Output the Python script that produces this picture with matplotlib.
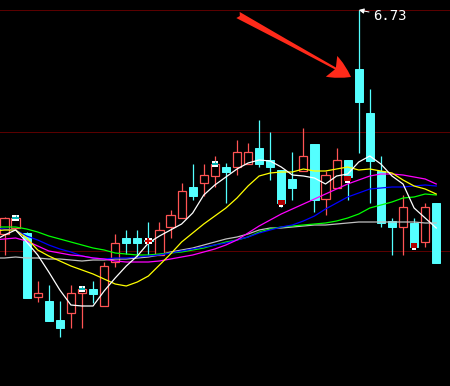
import numpy as np
import matplotlib.pyplot as plt
from matplotlib.patches import Rectangle

# daily candles
opens = [4.49, 4.55, 4.50, 3.86, 3.82, 3.63, 3.70, 3.90, 3.94, 3.77,
         4.21, 4.45, 4.45, 4.43, 4.28, 4.56, 4.65, 4.96, 5.00, 5.07,
         5.16, 5.16, 5.19, 5.35, 5.23, 5.13, 5.04, 5.12, 5.39, 4.84,
         4.95, 5.23, 6.14, 5.70, 5.12, 4.62, 4.56, 4.60, 4.41, 4.80]
highs = [4.66, 4.67, 4.51, 4.02, 3.98, 3.82, 3.98, 3.96, 4.02, 4.21,
         4.49, 4.53, 4.53, 4.61, 4.61, 4.73, 5.00, 5.19, 5.19, 5.27,
         5.20, 5.43, 5.40, 5.63, 5.51, 5.13, 5.31, 5.55, 5.39, 5.12,
         5.35, 5.23, 6.73, 5.94, 5.27, 4.65, 4.88, 4.65, 4.80, 4.80]
lows = [4.28, 4.54, 3.85, 3.81, 3.62, 3.46, 3.55, 3.55, 3.80, 3.77,
        4.16, 4.29, 4.26, 4.28, 4.28, 4.45, 4.65, 4.83, 4.87, 4.96,
        4.80, 5.08, 5.19, 5.16, 5.03, 4.76, 4.83, 5.12, 4.71, 4.68,
        4.95, 4.83, 5.30, 4.80, 4.56, 4.28, 4.28, 4.35, 4.36, 4.20]
closes = [4.65, 4.65, 3.85, 3.90, 3.62, 3.55, 3.90, 3.94, 3.89, 4.17,
          4.40, 4.40, 4.40, 4.42, 4.53, 4.68, 4.92, 4.87, 5.08, 5.19,
          5.11, 5.31, 5.31, 5.19, 5.16, 4.80, 4.95, 5.27, 4.83, 5.08,
          5.23, 5.06, 5.81, 5.22, 4.60, 4.56, 4.76, 4.36, 4.76, 4.20]

# moving averages, first value is the day before the first candle
ma_white = [4.42, 4.48, 4.53, 4.41, 4.28, 4.11, 3.93, 3.78, 3.77, 3.77,
            3.92, 4.05, 4.17, 4.27, 4.40, 4.47, 4.53, 4.59, 4.70, 4.88,
            4.98, 5.06, 5.14, 5.20, 5.23, 5.22, 5.16, 5.08, 5.07, 5.05,
            4.99, 5.07, 5.09, 5.21, 5.27, 5.19, 5.07, 4.99, 4.75, 4.65, 4.55]
ma_yellow = [4.52, 4.53, 4.53, 4.45, 4.33, 4.27, 4.22, 4.17, 4.13, 4.09,
             4.04, 3.99, 3.97, 4.01, 4.07, 4.18, 4.29, 4.41, 4.50, 4.59,
             4.67, 4.75, 4.85, 4.97, 5.07, 5.10, 5.11, 5.11, 5.14, 5.12,
             5.12, 5.14, 5.16, 5.13, 5.14, 5.12, 5.10, 5.03, 4.97, 4.94, 4.89]
ma_magenta = [4.43, 4.44, 4.45, 4.42, 4.37, 4.32, 4.30, 4.28, 4.27, 4.25,
              4.24, 4.22, 4.21, 4.21, 4.21, 4.22, 4.24, 4.26, 4.28, 4.31,
              4.34, 4.38, 4.43, 4.50, 4.57, 4.63, 4.69, 4.74, 4.79, 4.84,
              4.89, 4.94, 4.99, 5.03, 5.07, 5.09, 5.09, 5.08, 5.06, 5.04, 4.99]
ma_blue = [4.55, 4.54, 4.53, 4.47, 4.43, 4.38, 4.34, 4.31, 4.27, 4.25,
           4.24, 4.25, 4.25, 4.26, 4.27, 4.28, 4.30, 4.32, 4.34, 4.36,
           4.38, 4.40, 4.43, 4.46, 4.50, 4.53, 4.56, 4.58, 4.62, 4.67,
           4.74, 4.80, 4.86, 4.90, 4.94, 4.95, 4.96, 4.96, 4.97, 4.98, 4.97]
ma_green = [4.56, 4.56, 4.56, 4.54, 4.51, 4.47, 4.44, 4.41, 4.38, 4.35,
            4.33, 4.30, 4.29, 4.28, 4.28, 4.29, 4.30, 4.31, 4.33, 4.35,
            4.38, 4.41, 4.43, 4.46, 4.51, 4.54, 4.56, 4.57, 4.58, 4.59,
            4.60, 4.62, 4.65, 4.69, 4.75, 4.78, 4.81, 4.85, 4.86, 4.89, 4.88]
ma_gray = [4.25, 4.25, 4.26, 4.25, 4.25, 4.24, 4.24, 4.23, 4.22, 4.23,
           4.23, 4.24, 4.24, 4.25, 4.26, 4.28, 4.31, 4.33, 4.35, 4.38,
           4.41, 4.44, 4.46, 4.49, 4.53, 4.55, 4.55, 4.56, 4.57, 4.58,
           4.58, 4.59, 4.60, 4.61, 4.61, 4.61, 4.61, 4.61, 4.61, 4.60, 4.60]

# signal icons drawn on some candles
marker_idx = [1, 7, 13, 19, 25, 31, 37]
marker_kind = ["flag", "flag", "cross", "flag", "stop", "stop", "stop"]
marker_price = [4.65, 3.94, 4.42, 5.19, 4.81, 5.05, 4.38]

grid_prices = [6.725, 5.515, 4.315]
peak_label = "6.73"

RED = "#ff5454"
CYAN = "#54ffff"
LW = 0.9


def draw_candles(ax):
    w = 0.74
    for i, (o, h, l, c) in enumerate(zip(opens, highs, lows, closes)):
        if c > o:
            ax.vlines(i, c, h, color=RED, lw=LW, zorder=2)
            ax.vlines(i, l, o, color=RED, lw=LW, zorder=2)
            ax.add_patch(Rectangle((i - w / 2, o), w, c - o, facecolor="black",
                                   edgecolor=RED, lw=LW, zorder=2))
        else:
            ax.vlines(i, l, h, color=CYAN, lw=LW, zorder=2)
            ax.add_patch(Rectangle((i - w / 2, c), w, o - c, facecolor=CYAN,
                                   edgecolor=CYAN, lw=0.7, zorder=2))


def draw_markers(ax):
    mw, mh = 0.6, 0.055
    for i, kind, p in zip(marker_idx, marker_kind, marker_price):
        if kind == "stop":
            ax.add_patch(Rectangle((i - mw / 2, p - 0.025), mw, 0.05,
                                   facecolor="#b00000", lw=0, zorder=5))
            ax.add_patch(Rectangle((i - 0.2, p - 0.045), 0.4, 0.02,
                                   facecolor="white", lw=0, zorder=5))
        else:
            ax.add_patch(Rectangle((i - mw / 2, p - mh / 2), mw, mh,
                                   facecolor="white", lw=0, zorder=5))
            if kind == "flag":
                ax.hlines(p, i - mw / 2, i + mw / 2, color="#00b0b0", lw=1.4, zorder=6)
                ax.vlines(i, p, p + mh / 2, color="#00b0b0", lw=0.7, zorder=6)
            else:
                ax.hlines(p, i - mw / 2, i + mw / 2, color="#d00000", lw=1.4, zorder=6)
                ax.vlines(i, p - mh / 2, p + mh / 2, color="#d00000", lw=1.4, zorder=6)


fig = plt.figure(figsize=(4.5, 3.86), dpi=100, facecolor="black")
ax = fig.add_axes([0, 0, 1, 1])
ax.set_facecolor("black")
ax.set_xlim(-4.5 / 11.07, (450 - 4.5) / 11.07)
ax.set_ylim(2.97, 6.83)
ax.set_axis_off()

for g in grid_prices:
    ax.axhline(g, color="#5a0000", lw=0.72, zorder=1)

draw_candles(ax)

x_ma = np.arange(-1, len(closes))
for vals, col in [(ma_gray, "#c0c0c0"), (ma_green, "#00ff00"), (ma_blue, "#0000ff"),
                  (ma_magenta, "#ff00ff"), (ma_yellow, "#ffff00"), (ma_white, "white")]:
    ax.plot(x_ma, vals, color=col, lw=LW, zorder=3)

draw_markers(ax)

peak = int(np.argmax(highs))
ax.annotate(peak_label, xy=(peak, highs[peak]), xytext=(peak + 1.3, highs[peak] - 0.06),
            color="white", fontsize=10, family="DejaVu Sans Mono", ha="left", va="center",
            arrowprops=dict(arrowstyle="-|>,head_length=0.3,head_width=0.15", color="white",
                            lw=0.72, shrinkA=1, shrinkB=0), zorder=7)

# big red pointer towards the spike candle
ax.annotate("", xy=(351, 386 - 77), xytext=(238, 386 - 15),
            xycoords="figure pixels", textcoords="figure pixels",
            arrowprops=dict(arrowstyle="fancy,head_length=1.6,head_width=1.7,tail_width=0.5",
                            fc="#ff2a1a", ec="none", mutation_scale=10, shrinkA=0, shrinkB=0),
            zorder=8)

fig.savefig("out.png", dpi=100, facecolor="black")
